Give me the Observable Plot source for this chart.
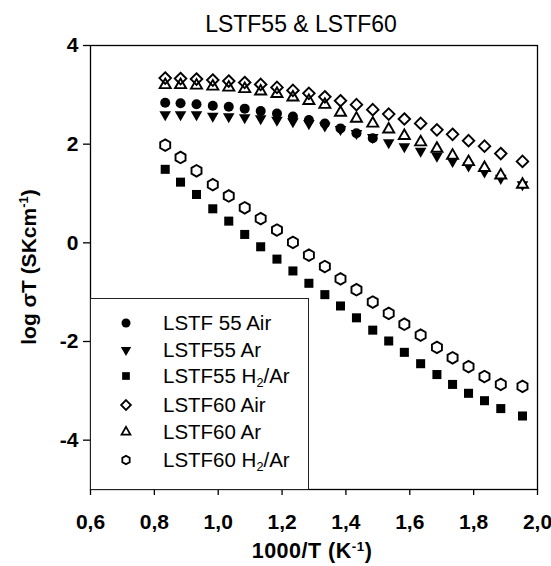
<!DOCTYPE html>
<html><head><meta charset="utf-8">
<script src="https://cdn.jsdelivr.net/npm/d3@7"></script>
<script src="https://cdn.jsdelivr.net/npm/@observablehq/plot@0.6"></script>
<style>
body{margin:0;background:#fff;font-family:"Liberation Sans",Arial,sans-serif;color:#000;}
#wrap{position:relative;width:551px;height:566px;overflow:hidden;}
#wrap > svg{position:absolute;left:0;top:0;}
.lbl{position:absolute;white-space:nowrap;transform:translate(-50%,-50%);line-height:1;}
#title{left:301px;top:24px;font-size:23px;}
#xlab{left:312px;top:552px;font-size:21.5px;font-weight:bold;letter-spacing:0.5px;}
#ylab{left:28px;top:267px;font-size:21px;font-weight:bold;transform:translate(-50%,-50%) rotate(-90deg);}
sup{font-size:0.62em;vertical-align:0.55em;line-height:0;}
sub{font-size:0.62em;vertical-align:-0.3em;line-height:0;}
#legend{position:absolute;left:90px;top:298px;width:219px;height:192px;box-sizing:border-box;border:1px solid #222;background:#fff;}
.row{position:absolute;left:0;height:24px;display:flex;align-items:center;font-size:20.5px;}
.row svg{position:static;flex:none;}
</style></head><body><div id="wrap"></div>
<script>
// 1000/T positions (K^-1)
const invT = [0.834, 0.882, 0.932, 0.983, 1.033, 1.083, 1.133, 1.184, 1.234, 1.284, 1.334, 1.383, 1.433, 1.484, 1.534, 1.583, 1.634, 1.685, 1.734, 1.784, 1.834, 1.885, 1.953];
// log sigma T series
const lstf55Air  = [2.84, 2.83, 2.81, 2.78, 2.76, 2.72, 2.67, 2.62, 2.56, 2.49, 2.42, 2.32, 2.22, 2.12];
const lstf55Ar   = [2.60, 2.60, 2.60, 2.57, 2.56, 2.54, 2.52, 2.49, 2.46, 2.42, 2.37, 2.30, 2.22, 2.14, 2.03, 1.95, 1.86, 1.76, 1.65, 1.56, 1.44, 1.31, 1.18];
const lstf55H2Ar = [1.49, 1.23, 0.98, 0.69, 0.44, 0.17, -0.08, -0.33, -0.57, -0.82, -1.05, -1.28, -1.52, -1.77, -1.99, -2.22, -2.45, -2.67, -2.87, -3.05, -3.20, -3.36, -3.51];
const lstf60Air  = [3.34, 3.33, 3.32, 3.30, 3.28, 3.25, 3.21, 3.15, 3.09, 3.03, 2.96, 2.88, 2.80, 2.70, 2.61, 2.51, 2.42, 2.29, 2.20, 2.07, 1.96, 1.81, 1.65];
const lstf60Ar   = [3.20, 3.20, 3.19, 3.17, 3.15, 3.12, 3.07, 3.02, 2.95, 2.88, 2.80, 2.64, 2.52, 2.42, 2.30, 2.17, 2.04, 1.91, 1.77, 1.64, 1.52, 1.37, 1.18];
const lstf60H2Ar = [1.98, 1.73, 1.46, 1.18, 0.95, 0.71, 0.49, 0.26, 0.01, -0.25, -0.48, -0.73, -0.95, -1.20, -1.43, -1.65, -1.87, -2.12, -2.33, -2.51, -2.71, -2.87, -2.91];

const seriesLabels = ["LSTF 55 Air", "LSTF55 Ar", "LSTF55 H<sub>2</sub>/Ar", "LSTF60 Air", "LSTF60 Ar", "LSTF60 H<sub>2</sub>/Ar"];
const xTicks = [0.6, 0.8, 1.0, 1.2, 1.4, 1.6, 1.8, 2.0];
const xTickLabels = ["0,6", "0,8", "1,0", "1,2", "1,4", "1,6", "1,8", "2,0"];
const yTicks = [4, 2, 0, -2, -4];
const yTickLabels = ["4", "2", "0", "-2", "-4"];
const titleText = "LSTF55 & LSTF60";

const series = [lstf55Air, lstf55Ar, lstf55H2Ar, lstf60Air, lstf60Ar, lstf60H2Ar];
const styles = [
  {symbol: "circle", fill: "#000", stroke: "none", r: 5, rotate: 0},
  {symbol: "triangle", fill: "#000", stroke: "none", r: 4.3, rotate: 180},
  {symbol: "square", fill: "#000", stroke: "none", r: 5.1, rotate: 0},
  {symbol: "diamond2", fill: "none", stroke: "#000", r: 5.2, rotate: 0},
  {symbol: "triangle", fill: "#fff", stroke: "#000", r: 4.1, rotate: 0},
  {symbol: "hexagon", fill: "#fff", stroke: "#000", r: 5.0, rotate: 0}
];
const drawOrder = [0, 1, 2, 5, 4, 3];

const rows = series.map(vals => vals.map((v, i) => ({x: invT[i], y: v})));
const lookup = (ticks, labels) => d => labels[ticks.findIndex(t => Math.abs(t - d) < 1e-9)] ?? "";

const marks = [Plot.frame({stroke: "#000", strokeWidth: 1.3})];
for (const k of drawOrder) {
  const s = styles[k];
  marks.push(Plot.dot(rows[k], {x: "x", y: "y", symbol: s.symbol, r: s.r, fill: s.fill, stroke: s.stroke,
    strokeWidth: 1.9, rotate: s.rotate}));
}
marks.push(Plot.axisX({ticks: xTicks, tickFormat: lookup(xTicks, xTickLabels), tickSize: 6, tickPadding: 19,
  fontSize: 21, fontWeight: "bold", strokeWidth: 1.3, label: null}));
marks.push(Plot.axisY({ticks: yTicks, tickFormat: lookup(yTicks, yTickLabels), tickSize: 7, tickPadding: 5,
  fontSize: 21, fontWeight: "bold", strokeWidth: 1.3, label: null}));

const chart = Plot.plot({
  width: 551, height: 566,
  marginTop: 45, marginBottom: 77, marginLeft: 90, marginRight: 14,
  style: {fontFamily: "'Liberation Sans', Arial, sans-serif", color: "#000", background: "#fff"},
  x: {domain: [0.6, 2.0], label: null},
  y: {domain: [-5, 4], label: null},
  marks
});
const wrap = document.getElementById("wrap");
wrap.appendChild(chart);

function addLabel(id, html) {
  const d = document.createElement("div");
  d.className = "lbl"; d.id = id; d.innerHTML = html;
  wrap.appendChild(d);
}
addLabel("title", titleText);
addLabel("xlab", "1000/T (K<sup>-1</sup>)");
addLabel("ylab", "log σT (SKcm<sup>-1</sup>)");

// legend
function symbolPath(name, r) {
  const size = Math.PI * r * r;
  if (name === "hexagon") {
    const rx = Math.sqrt(size / Math.PI), ry = rx * Math.sqrt(3) / 2;
    return `M0,${rx}L${ry},${rx/2}L${ry},${-rx/2}L0,${-rx}L${-ry},${-rx/2}L${-ry},${rx/2}Z`;
  }
  const map = {circle: d3.symbolCircle, triangle: d3.symbolTriangle, square: d3.symbolSquare, diamond2: d3.symbolDiamond2};
  return d3.symbol(map[name], size)();
}
const legend = document.createElement("div");
legend.id = "legend";
wrap.appendChild(legend);
const rowTops = [12, 38.5, 65, 93.5, 121, 148.5];
const legendScale = [0.9, 0.9, 0.85, 0.85, 0.8, 0.85];
seriesLabels.forEach((lab, k) => {
  const s = styles[k];
  const row = document.createElement("div");
  row.className = "row";
  row.style.top = rowTops[k] + "px";
  const sw = 22;
  row.innerHTML = `<svg width="${sw}" height="${sw}" style="margin-left:24px;margin-right:26px" viewBox="${-sw/2} ${-sw/2} ${sw} ${sw}">
    <path d="${symbolPath(s.symbol, s.r * legendScale[k])}" transform="rotate(${s.rotate})" fill="${s.fill}" stroke="${s.stroke}" stroke-width="1.8"/></svg><span>${lab}</span>`;
  legend.appendChild(row);
});
</script></body></html>
